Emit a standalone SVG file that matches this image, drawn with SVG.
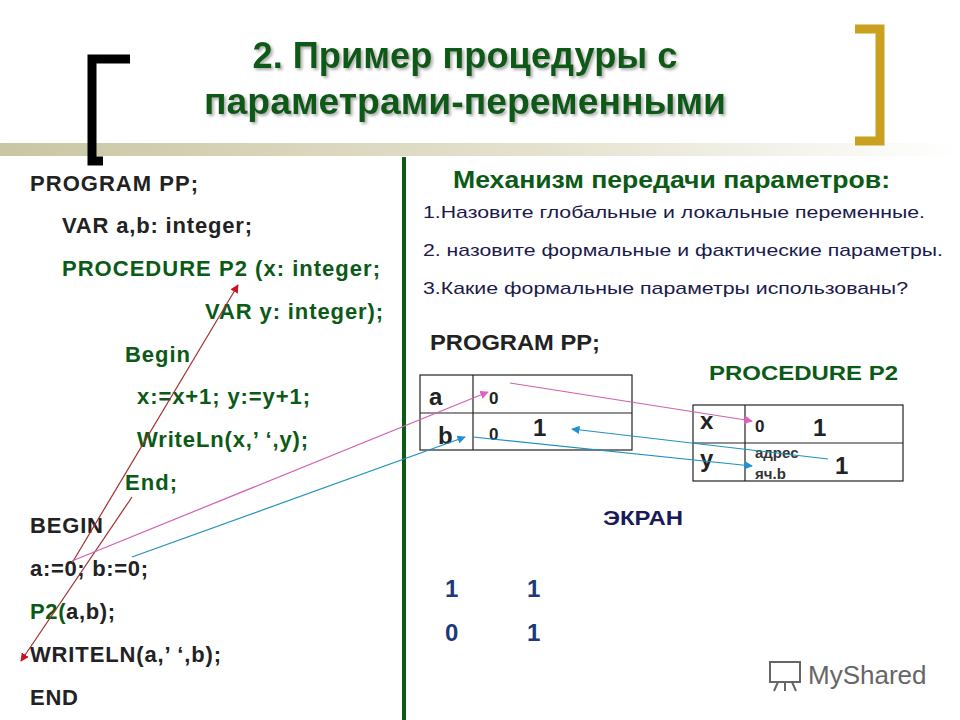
<svg xmlns="http://www.w3.org/2000/svg" width="960" height="720" viewBox="0 0 960 720">
<defs>
<linearGradient id="bar" x1="0" x2="1" y1="0" y2="0"><stop offset="0" stop-color="#c9c6a2"/><stop offset="0.6" stop-color="#e6e4d2"/><stop offset="1" stop-color="#ffffff"/></linearGradient>
<filter id="sh" x="-5%" y="-20%" width="110%" height="150%"><feDropShadow dx="2" dy="2" stdDeviation="1.5" flood-color="#888" flood-opacity="0.7"/></filter>
<marker id="mr" viewBox="0 0 10 10" refX="9" refY="5" markerWidth="7" markerHeight="7" orient="auto"><path d="M0,0L10,5L0,10z" fill="#d01020"/></marker>
<marker id="mp" viewBox="0 0 10 10" refX="9" refY="5" markerWidth="7" markerHeight="7" orient="auto"><path d="M0,0L10,5L0,10z" fill="#e060c0"/></marker>
<marker id="mb" viewBox="0 0 10 10" refX="9" refY="5" markerWidth="7" markerHeight="7" orient="auto"><path d="M0,0L10,5L0,10z" fill="#2090d0"/></marker>
</defs>
<style>
text{font-family:"Liberation Sans",Arial,sans-serif}
.c{font-size:22px;font-weight:bold;fill:#222}
.g{font-size:22px;font-weight:bold;fill:#0b5a16}
.q{font-size:17px;fill:#1a1a4a}
.cell{fill:none;stroke:#222;stroke-width:1.2}
.big{font-size:24px;font-weight:bold;fill:#222}
.sm{font-size:17px;font-weight:bold;fill:#222}
.scr{font-size:24px;font-weight:bold;fill:#1a3a7a}
</style>
<rect width="960" height="720" fill="#fff"/>
<rect x="0" y="143" width="960" height="13" fill="url(#bar)"/>
<g id="title" fill="#0b5a16" font-size="36" font-weight="bold" text-anchor="middle" filter="url(#sh)">
<text x="465" y="68" textLength="425" lengthAdjust="spacingAndGlyphs">2. Пример процедуры с</text>
<text x="465" y="114" textLength="522" lengthAdjust="spacingAndGlyphs">параметрами-переменными</text>
</g>
<path d="M130,59H92V161H103" fill="none" stroke="#000" stroke-width="9"/>
<path d="M855,29H880V141H855" fill="none" stroke="#c9a020" stroke-width="9"/>
<rect x="402" y="157" width="4" height="563" fill="#0b5a16"/>
<g id="code" lengthAdjust="spacingAndGlyphs">
<text class="c" x="30" y="191" textLength="168">PROGRAM PP;</text>
<text class="c" x="62" y="233" textLength="190">VAR a,b: integer;</text>
<text class="g" x="62" y="276" textLength="318">PROCEDURE P2 (x: integer;</text>
<text class="g" x="205" y="319" textLength="178">VAR y: integer);</text>
<text class="g" x="125" y="362" textLength="65">Begin</text>
<text class="g" x="137" y="404" textLength="173">x:=x+1; y:=y+1;</text>
<text class="g" x="137" y="447" textLength="171">WriteLn(x,’ ‘,y);</text>
<text class="g" x="125" y="490" textLength="52">End;</text>
<text class="c" x="30" y="533" textLength="73">BEGIN</text>
<text class="c" x="30" y="576" textLength="118">a:=0; b:=0;</text>
<text class="c" x="30" y="619" textLength="85"><tspan fill="#0b5a16">P2(</tspan>a,b);</text>
<text class="c" x="30" y="662" textLength="191">WRITELN(a,’ ‘,b);</text>
<text class="c" x="30" y="705" textLength="48">END</text>
</g>
<g id="questions">
<text x="453" y="188" font-size="24" font-weight="bold" fill="#0b5a16" textLength="437" lengthAdjust="spacingAndGlyphs">Механизм передачи параметров:</text>
<text class="q" x="423" y="218" textLength="502" lengthAdjust="spacingAndGlyphs">1.Назовите глобальные и локальные переменные.</text>
<text class="q" x="423" y="256" textLength="520" lengthAdjust="spacingAndGlyphs">2. назовите формальные и фактические параметры.</text>
<text class="q" x="423" y="294" textLength="485" lengthAdjust="spacingAndGlyphs">3.Какие формальные параметры использованы?</text>
</g>
<g id="main-table">
<text x="430" y="350" font-size="22" font-weight="bold" fill="#222" textLength="170" lengthAdjust="spacingAndGlyphs">PROGRAM PP;</text>
<rect class="cell" x="420" y="375" width="212" height="75"/>
<line class="cell" x1="420" y1="413" x2="632" y2="413"/>
<line class="cell" x1="473" y1="375" x2="473" y2="450"/>
<text class="big" x="429" y="405">a</text>
<text class="sm" x="489" y="404">0</text>
<text class="big" x="438" y="444">b</text>
<text class="sm" x="489" y="440">0</text>
<text class="big" x="533" y="436">1</text>
</g>
<g id="proc-table">
<text x="709" y="380" font-size="21" font-weight="bold" fill="#0b5a16" textLength="189" lengthAdjust="spacingAndGlyphs">PROCEDURE P2</text>
<rect class="cell" x="693" y="405" width="210" height="76"/>
<line class="cell" x1="693" y1="443" x2="903" y2="443"/>
<line class="cell" x1="745" y1="405" x2="745" y2="481"/>
<text class="big" x="700" y="429">x</text>
<text class="big" x="700" y="467">y</text>
<text class="sm" x="755" y="432">0</text>
<text class="big" x="813" y="436">1</text>
<text x="755" y="458" font-size="15" font-weight="bold" fill="#333">адрес</text>
<text x="755" y="479" font-size="15" font-weight="bold" fill="#333">яч.b</text>
<text class="big" x="835" y="474">1</text>
</g>
<g id="screen">
<text x="603" y="525" font-size="20" font-weight="bold" fill="#1a1a5a" textLength="80" lengthAdjust="spacingAndGlyphs">ЭКРАН</text>
<text class="scr" x="445" y="597">1</text>
<text class="scr" x="527" y="597">1</text>
<text class="scr" x="445" y="641">0</text>
<text class="scr" x="527" y="641">1</text>
</g>
<g id="connectors" fill="none" stroke-width="1.2">
<line x1="72" y1="563" x2="238" y2="285" stroke="#a03030" marker-end="url(#mr)"/>
<line x1="132" y1="497" x2="21" y2="661" stroke="#a03030" marker-end="url(#mr)"/>
<line x1="72" y1="561" x2="488" y2="392" stroke="#d060b0" marker-end="url(#mp)"/>
<line x1="510" y1="383" x2="752" y2="421" stroke="#d060b0" marker-end="url(#mp)"/>
<line x1="132" y1="557" x2="465" y2="437" stroke="#2090c0" marker-end="url(#mb)"/>
<line x1="473" y1="437" x2="752" y2="466" stroke="#2090c0" marker-end="url(#mb)"/>
<line x1="828" y1="459" x2="572" y2="429" stroke="#2090c0" marker-end="url(#mb)"/>
</g>
<g id="logo">
<text x="808" y="684" font-size="26" fill="#666" font-family="Lato,sans-serif">MyShared</text>
<g stroke="#666" stroke-width="2" fill="none"><rect x="770" y="662" width="30" height="20"/><path d="M778,682l-4,9M792,682l4,9M785,682v9"/></g>
</g>
</svg>
